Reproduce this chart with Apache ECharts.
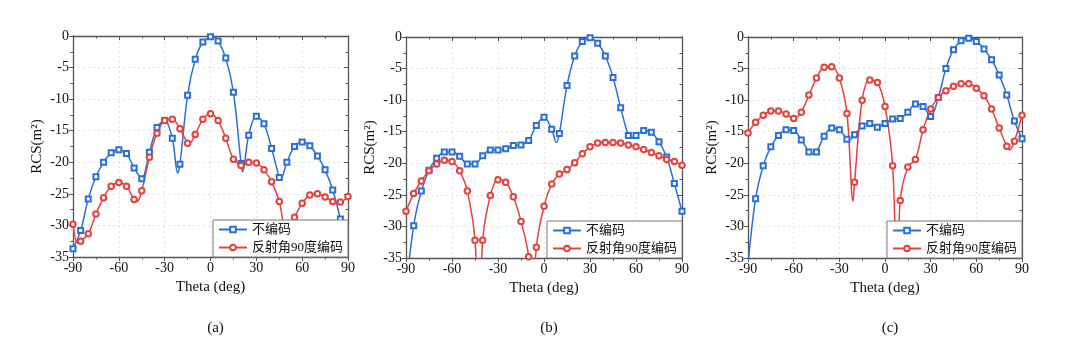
<!DOCTYPE html>
<html><head><meta charset="utf-8">
<script src="https://cdn.jsdelivr.net/npm/echarts@6/dist/echarts.min.js"></script>
<style>html,body{margin:0;padding:0;background:#fff}#c{width:1080px;height:347px}</style>
</head><body><div id="c"></div>
<script>
// ---------- data ----------
const theta = [-90,-85,-80,-75,-70,-65,-60,-55,-50,-45,-40,-35,-30,-25,-20,-15,-10,-5,0,5,10,15,20,25,30,35,40,45,50,55,60,65,70,75,80,85,90];
const xTicks = [-90,-60,-30,0,30,60,90];
const yTicks = [-35,-30,-25,-20,-15,-10,-5,0];
const seriesNames = ['不编码','反射角90度编码'];
const panelLabels = ['(a)','(b)','(c)'];

// panel (a)
const aBlue = [-33.7,-30.8,-25.8,-22.3,-20.0,-18.5,-18.0,-18.6,-20.9,-22.6,-18.4,-14.5,-13.4,-16.2,-20.3,-9.4,-3.7,-0.95,-0.1,-0.8,-3.5,-8.9,-20.2,-15.7,-12.7,-13.9,-17.8,-22.4,-20.0,-17.5,-16.8,-17.4,-19.0,-21.2,-24.4,-29.0,-35.5];
const aBlueExtra = [[-21.5,-21.7],[1,0],[21,-21.5],[46,-22.6]];
const aRed = [-29.8,-32.5,-31.3,-28.2,-25.6,-23.8,-23.2,-23.8,-25.9,-24.5,-19.2,-15.4,-13.4,-13.2,-14.7,-17.0,-15.6,-13.2,-12.3,-13.4,-16.2,-19.5,-20.5,-20.0,-20.1,-21.2,-23.1,-26.2,-31.5,-28.7,-26.5,-25.2,-25.0,-25.5,-26.2,-26.3,-25.4];
const aRedExtra = [[-87,-32.8],[-48,-26.2],[-14,-17.1],[21,-20.6]];

// panel (b)
const bBlue = [-40.0,-29.9,-24.4,-21.1,-19.2,-18.2,-18.2,-18.9,-20.1,-20.1,-18.8,-17.9,-17.9,-17.7,-17.2,-17.1,-16.4,-14.0,-12.7,-14.6,-15.3,-7.7,-3.0,-0.7,-0.1,-1.0,-3.0,-6.4,-11.2,-15.6,-15.6,-14.8,-15.1,-16.6,-19.0,-23.2,-27.6];
const bBlueExtra = [[8,-16.7],[57,-16.0]];
const bRed = [-27.6,-24.8,-22.8,-21.2,-20.1,-19.5,-19.7,-21.2,-24.4,-32.2,-32.2,-25.1,-22.6,-23.0,-25.3,-29.2,-34.8,-33.3,-26.8,-23.3,-21.7,-21.0,-19.9,-18.5,-17.4,-16.8,-16.7,-16.7,-16.8,-17.1,-17.4,-17.8,-18.3,-18.8,-19.4,-19.7,-20.3];
const bRedExtra = [[-42.5,-48],[-8,-45]];

// panel (c)
const cBlue = [-36.0,-25.6,-20.4,-17.4,-15.6,-14.7,-14.8,-16.3,-18.2,-18.2,-15.7,-14.4,-14.7,-16.2,-15.5,-14.1,-13.7,-14.3,-13.7,-13.0,-12.9,-11.9,-10.6,-11.0,-12.6,-9.6,-5.0,-2.0,-0.6,-0.2,-0.7,-1.9,-3.6,-6.0,-9.2,-13.3,-16.1];
const cBlueExtra = [[-48,-18.5],[-24,-16.4]];
const cRed = [-15.2,-13.5,-12.4,-11.7,-11.7,-12.2,-12.9,-11.9,-9.2,-6.5,-4.8,-4.7,-6.5,-12.1,-23.0,-10.0,-6.8,-7.2,-11.0,-20.4,-25.9,-20.6,-19.4,-14.7,-11.4,-9.6,-8.5,-7.8,-7.4,-7.4,-8.1,-9.3,-11.4,-14.4,-17.3,-16.5,-12.4];
const cRedExtra = [[-21,-26.0],[8,-40],[82,-17.9]];

const panels = [
  {blue: aBlue, blueX: aBlueExtra, red: aRed, redX: aRedExtra},
  {blue: bBlue, blueX: bBlueExtra, red: bRed, redX: bRedExtra},
  {blue: cBlue, blueX: cBlueExtra, red: cRed, redX: cRedExtra}
];

// ---------- layout ----------
const grids = [
  {left: 73, top: 36, width: 275, height: 221},
  {left: 406, top: 37, width: 276, height: 221},
  {left: 748, top: 37, width: 274, height: 221}
];
const BLUE = '#2a6fd9', RED = '#e8403c';
const SERIF = '"Liberation Serif","Times New Roman",serif';

function build(vals, extra){
  const pts = theta.map((t,i)=>({value:[t, vals[i]]}));
  extra.forEach(p=>pts.push({value:[p[0],p[1]], symbol:'none'}));
  pts.sort((a,b)=>a.value[0]-b.value[0]);
  return pts;
}

const xAxis=[], yAxis=[], series=[], legend=[], title=[];
const axisLineStyle = {color:'#555', width:1.3};
grids.forEach((g,i)=>{
  xAxis.push({type:'value', gridIndex:i, min:-90, max:90, interval:30, position:'bottom',
    axisLine:{show:true, onZero:false, lineStyle:axisLineStyle},
    axisTick:{show:true, inside:false, length:4, lineStyle:{color:'#555'}},
    minorTick:{show:true, splitNumber:2, length:2.5, lineStyle:{color:'#555'}},
    splitLine:{show:true, lineStyle:{color:'#dcdcdc', type:[2,3], width:0.8}},
    axisLabel:{color:'#111', fontFamily:SERIF, fontSize:14, margin:4,
      formatter:v=>xTicks.includes(v)?String(v):''},
    name:'Theta (deg)', nameLocation:'middle', nameGap:23,
    nameTextStyle:{color:'#111', fontFamily:SERIF, fontSize:15}});
  xAxis.push({type:'value', gridIndex:i, min:-90, max:90, interval:30, position:'top',
    axisLine:{show:true, onZero:false, lineStyle:axisLineStyle},
    axisTick:{show:true, inside:true, length:4, lineStyle:{color:'#555'}},
    minorTick:{show:true, splitNumber:2, length:2.5, lineStyle:{color:'#555'}},
    splitLine:{show:false}, axisLabel:{show:false}});
  yAxis.push({type:'value', gridIndex:i, min:-35, max:0, interval:5, position:'left',
    axisLine:{show:true, onZero:false, lineStyle:axisLineStyle},
    axisTick:{show:true, inside:false, length:4, lineStyle:{color:'#555'}},
    minorTick:{show:true, splitNumber:2, length:2.5, lineStyle:{color:'#555'}},
    splitLine:{show:true, lineStyle:{color:'#dcdcdc', type:[2,3], width:0.8}},
    axisLabel:{color:'#111', fontFamily:SERIF, fontSize:14, margin:4,
      formatter:v=>yTicks.includes(v)?String(v):''},
    name:'RCS(m²)', nameLocation:'middle', nameRotate:90, nameGap:28,
    nameTextStyle:{color:'#111', fontFamily:SERIF, fontSize:15}});
  yAxis.push({type:'value', gridIndex:i, min:-35, max:0, interval:5, position:'right',
    axisLine:{show:true, onZero:false, lineStyle:axisLineStyle},
    axisTick:{show:true, inside:true, length:4, lineStyle:{color:'#555'}},
    minorTick:{show:true, splitNumber:2, length:2.5, lineStyle:{color:'#555'}},
    splitLine:{show:false}, axisLabel:{show:false}});
  const p = panels[i];
  series.push({name:seriesNames[0], type:'line', xAxisIndex:2*i, yAxisIndex:2*i,
    data:build(p.blue,p.blueX), smooth:0.35, symbol:'emptyRect', symbolSize:5, clip:true,
    lineStyle:{color:BLUE, width:1.5}, itemStyle:{color:BLUE, borderWidth:0.9}, z:2});
  series.push({name:seriesNames[1], type:'line', xAxisIndex:2*i, yAxisIndex:2*i,
    data:build(p.red,p.redX), smooth:0.35, symbol:'emptyCircle', symbolSize:5.5, clip:true,
    lineStyle:{color:RED, width:1.5}, itemStyle:{color:RED, borderWidth:0.9}, z:2});
  legend.push({data:seriesNames, orient:'vertical', right:1080-(g.left+g.width),
    top:g.top+g.height-37, itemWidth:28, itemHeight:7, itemGap:5,
    padding:[3,5,3,5], backgroundColor:'#fff', borderColor:'#777', borderWidth:1,
    textStyle:{color:'#111', fontSize:13, fontFamily:'"Liberation Serif","Noto Sans CJK SC",serif'},
    selectedMode:false, z:10});
  title.push({text:panelLabels[i], left:g.left+g.width/2, top:316, textAlign:'center',
    textStyle:{color:'#111', fontFamily:SERIF, fontSize:15, fontWeight:'normal'}});
});

const chart = echarts.init(document.getElementById('c'), null, {renderer:'canvas'});
chart.setOption({animation:false, backgroundColor:'#fff', grid:grids, xAxis, yAxis, series, legend, title});
</script></body></html>
